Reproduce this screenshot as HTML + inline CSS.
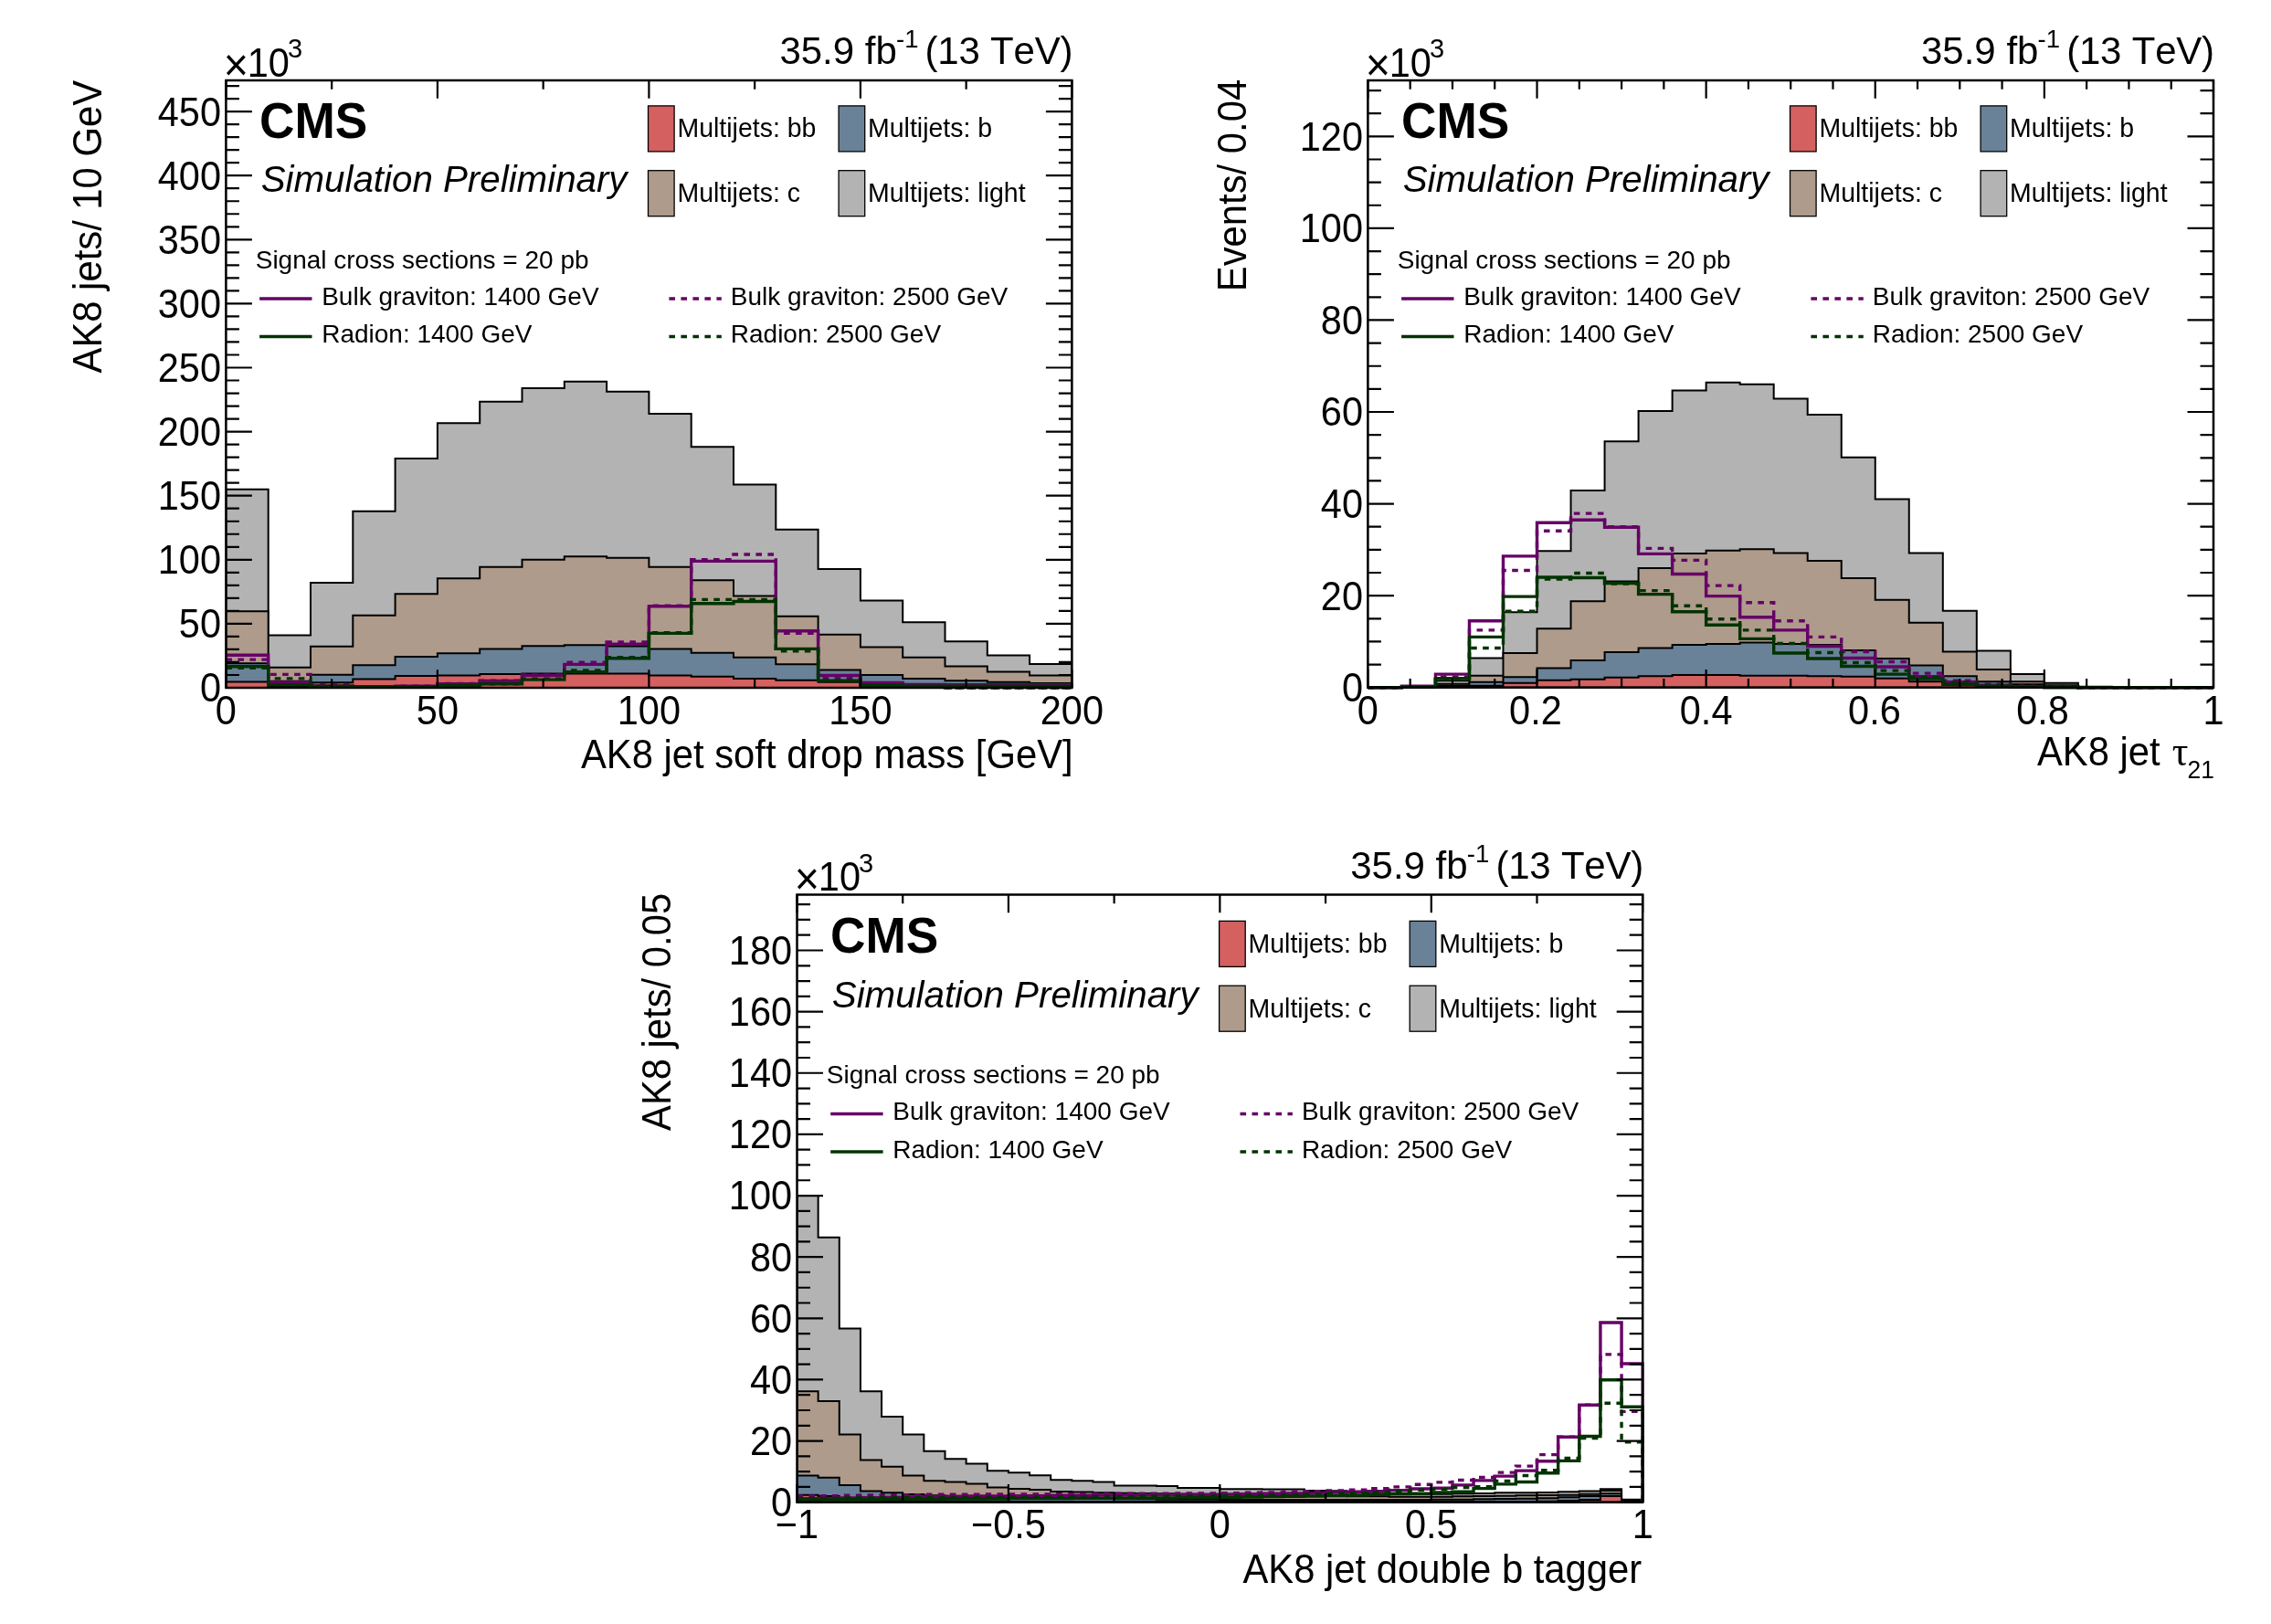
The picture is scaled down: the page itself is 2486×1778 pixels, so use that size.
<!DOCTYPE html>
<html><head><meta charset="utf-8"><title>CMS Simulation Preliminary - AK8 jet distributions</title>
<style>
html,body{margin:0;padding:0;background:#fff;width:2486px;height:1778px;overflow:hidden;}
svg{display:block;will-change:transform;}
text{font-family:"Liberation Sans",Arial,Helvetica,sans-serif;font-kerning:none;fill:#000;}
text.b{font-weight:bold;}
text.i{font-style:italic;}
text.sr{font-family:"Liberation Serif","Times New Roman",serif;}
</style></head><body>
<svg width="2486" height="1778" viewBox="0 0 2486 1778">
<rect width="2486" height="1778" fill="#fff"/>
<clipPath id="c1"><rect x="247.4" y="88" width="926" height="665"/></clipPath>
<clipPath id="s1"><rect x="247.4" y="88" width="927.5" height="667.2"/></clipPath>
<g clip-path="url(#c1)">
<path d="M247.4,753 L247.4,535.83 L293.7,535.83 L293.7,695.38 L340,695.38 L340,637.9 L386.3,637.9 L386.3,559.8 L432.6,559.8 L432.6,502.04 L478.9,502.04 L478.9,463.21 L525.2,463.21 L525.2,439.79 L571.5,439.79 L571.5,424.93 L617.8,424.93 L617.8,417.64 L664.1,417.64 L664.1,428.72 L710.4,428.72 L710.4,453.11 L756.7,453.11 L756.7,489.28 L803,489.28 L803,530.5 L849.3,530.5 L849.3,579.71 L895.6,579.71 L895.6,623.03 L941.9,623.03 L941.9,657.52 L988.2,657.52 L988.2,681.36 L1034.5,681.36 L1034.5,702.25 L1080.8,702.25 L1080.8,717.39 L1127.1,717.39 L1127.1,726.92 L1173.4,726.92 L1173.4,753 Z" fill="#b3b3b3" stroke="#000" stroke-width="2" stroke-linejoin="miter"/>
<path d="M247.4,753 L247.4,669.16 L293.7,669.16 L293.7,730.71 L340,730.71 L340,707.72 L386.3,707.72 L386.3,673.65 L432.6,673.65 L432.6,650.37 L478.9,650.37 L478.9,633.27 L525.2,633.27 L525.2,620.79 L571.5,620.79 L571.5,612.66 L617.8,612.66 L617.8,609.3 L664.1,609.3 L664.1,610.84 L710.4,610.84 L710.4,620.79 L756.7,620.79 L756.7,635.23 L803,635.23 L803,652.62 L849.3,652.62 L849.3,674.77 L895.6,674.77 L895.6,694.68 L941.9,694.68 L941.9,708.56 L988.2,708.56 L988.2,719.63 L1034.5,719.63 L1034.5,729.59 L1080.8,729.59 L1080.8,735.62 L1127.1,735.62 L1127.1,739.54 L1173.4,739.54 L1173.4,753 Z" fill="#ae9b8b" stroke="#000" stroke-width="2" stroke-linejoin="miter"/>
<path d="M247.4,753 L247.4,726.22 L293.7,726.22 L293.7,745.85 L340,745.85 L340,738.7 L386.3,738.7 L386.3,728.32 L432.6,728.32 L432.6,719.07 L478.9,719.07 L478.9,715.15 L525.2,715.15 L525.2,710.52 L571.5,710.52 L571.5,707.29 L617.8,707.29 L617.8,706.31 L664.1,706.31 L664.1,707.43 L710.4,707.43 L710.4,710.38 L756.7,710.38 L756.7,714.73 L803,714.73 L803,719.63 L849.3,719.63 L849.3,727.34 L895.6,727.34 L895.6,733.51 L941.9,733.51 L941.9,738.98 L988.2,738.98 L988.2,742.91 L1034.5,742.91 L1034.5,745.15 L1080.8,745.15 L1080.8,746.69 L1127.1,746.69 L1127.1,747.95 L1173.4,747.95 L1173.4,753 Z" fill="#6a8298" stroke="#000" stroke-width="2" stroke-linejoin="miter"/>
<path d="M247.4,753 L247.4,746.41 L293.7,746.41 L293.7,750.9 L340,750.9 L340,747.25 L386.3,747.25 L386.3,743.47 L432.6,743.47 L432.6,740.1 L478.9,740.1 L478.9,739.4 L525.2,739.4 L525.2,738 L571.5,738 L571.5,737.44 L617.8,737.44 L617.8,737.44 L664.1,737.44 L664.1,737.44 L710.4,737.44 L710.4,739.54 L756.7,739.54 L756.7,740.66 L803,740.66 L803,742.91 L849.3,742.91 L849.3,744.73 L895.6,744.73 L895.6,746.69 L941.9,746.69 L941.9,749.64 L988.2,749.64 L988.2,750.9 L1034.5,750.9 L1034.5,751.32 L1080.8,751.32 L1080.8,751.6 L1127.1,751.6 L1127.1,751.88 L1173.4,751.88 L1173.4,753 Z" fill="#d46060" stroke="#000" stroke-width="2" stroke-linejoin="miter"/>
</g><g clip-path="url(#s1)">
<path d="M247.4,717.25 L293.7,717.25 L293.7,746.83 L340,746.83 L340,751.18 L386.3,751.18 L386.3,751.6 L432.6,751.6 L432.6,751.18 L478.9,751.18 L478.9,748.79 L525.2,748.79 L525.2,745.57 L571.5,745.57 L571.5,739.54 L617.8,739.54 L617.8,727.34 L664.1,727.34 L664.1,705.19 L710.4,705.19 L710.4,663.69 L756.7,663.69 L756.7,614.34 L803,614.34 L803,614.34 L849.3,614.34 L849.3,690.75 L895.6,690.75 L895.6,739.54 L941.9,739.54 L941.9,747.39 L988.2,747.39 L988.2,749.35 L1034.5,749.35 L1034.5,749.64 L1080.8,749.64 L1080.8,749.64 L1127.1,749.64 L1127.1,749.64 L1173.4,749.64 L1173.4,753" fill="none" stroke="#660066" stroke-width="3.4"/>
<path d="M247.4,722.16 L293.7,722.16 L293.7,738.42 L340,738.42 L340,749.5 L386.3,749.5 L386.3,751.6 L432.6,751.6 L432.6,751.18 L478.9,751.18 L478.9,748.37 L525.2,748.37 L525.2,745.29 L571.5,745.29 L571.5,738.98 L617.8,738.98 L617.8,725.1 L664.1,725.1 L664.1,702.95 L710.4,702.95 L710.4,663.27 L756.7,663.27 L756.7,612.66 L803,612.66 L803,607.05 L849.3,607.05 L849.3,693.41 L895.6,693.41 L895.6,741.78 L941.9,741.78 L941.9,748.79 L988.2,748.79 L988.2,752.3 L1034.5,752.3 L1034.5,753 L1080.8,753 L1080.8,753 L1127.1,753 L1127.1,753 L1173.4,753 L1173.4,753" fill="none" stroke="#660066" stroke-width="3.4" stroke-dasharray="6.6 6.4"/>
<path d="M247.4,729.73 L293.7,729.73 L293.7,749.78 L340,749.78 L340,751.46 L386.3,751.46 L386.3,751.88 L432.6,751.88 L432.6,751.6 L478.9,751.6 L478.9,750.48 L525.2,750.48 L525.2,748.79 L571.5,748.79 L571.5,744.17 L617.8,744.17 L617.8,735.62 L664.1,735.62 L664.1,720.75 L710.4,720.75 L710.4,693.41 L756.7,693.41 L756.7,660.75 L803,660.75 L803,658.51 L849.3,658.51 L849.3,710.38 L895.6,710.38 L895.6,745.15 L941.9,745.15 L941.9,750.34 L988.2,750.34 L988.2,751.18 L1034.5,751.18 L1034.5,751.32 L1080.8,751.32 L1080.8,751.32 L1127.1,751.32 L1127.1,751.32 L1173.4,751.32 L1173.4,753" fill="none" stroke="#003300" stroke-width="3.4"/>
<path d="M247.4,731.27 L293.7,731.27 L293.7,742.91 L340,742.91 L340,751.32 L386.3,751.32 L386.3,751.88 L432.6,751.88 L432.6,751.6 L478.9,751.6 L478.9,750.48 L525.2,750.48 L525.2,748.79 L571.5,748.79 L571.5,743.19 L617.8,743.19 L617.8,734.07 L664.1,734.07 L664.1,719.63 L710.4,719.63 L710.4,692.71 L756.7,692.71 L756.7,656.4 L803,656.4 L803,656.4 L849.3,656.4 L849.3,712.9 L895.6,712.9 L895.6,744.87 L941.9,744.87 L941.9,750.2 L988.2,750.2 L988.2,752.3 L1034.5,752.3 L1034.5,753 L1080.8,753 L1080.8,753 L1127.1,753 L1127.1,753 L1173.4,753 L1173.4,753" fill="none" stroke="#003300" stroke-width="3.4" stroke-dasharray="6.6 6.4"/>
</g>
<rect x="247.4" y="88" width="926" height="665" fill="none" stroke="#000" stroke-width="2.5"/>
<path d="M247.4,753 v-19.8 M247.4,88 v19.8 M363.15,753 v-9.8 M363.15,88 v9.8 M478.9,753 v-19.8 M478.9,88 v19.8 M594.65,753 v-9.8 M594.65,88 v9.8 M710.4,753 v-19.8 M710.4,88 v19.8 M826.15,753 v-9.8 M826.15,88 v9.8 M941.9,753 v-19.8 M941.9,88 v19.8 M1057.65,753 v-9.8 M1057.65,88 v9.8 M1173.4,753 v-19.8 M1173.4,88 v19.8 M247.4,753 h28.5 M1173.4,753 h-28.5 M247.4,738.98 h14.5 M1173.4,738.98 h-14.5 M247.4,724.96 h14.5 M1173.4,724.96 h-14.5 M247.4,710.94 h14.5 M1173.4,710.94 h-14.5 M247.4,696.92 h14.5 M1173.4,696.92 h-14.5 M247.4,682.9 h28.5 M1173.4,682.9 h-28.5 M247.4,668.88 h14.5 M1173.4,668.88 h-14.5 M247.4,654.86 h14.5 M1173.4,654.86 h-14.5 M247.4,640.84 h14.5 M1173.4,640.84 h-14.5 M247.4,626.82 h14.5 M1173.4,626.82 h-14.5 M247.4,612.8 h28.5 M1173.4,612.8 h-28.5 M247.4,598.78 h14.5 M1173.4,598.78 h-14.5 M247.4,584.76 h14.5 M1173.4,584.76 h-14.5 M247.4,570.74 h14.5 M1173.4,570.74 h-14.5 M247.4,556.72 h14.5 M1173.4,556.72 h-14.5 M247.4,542.7 h28.5 M1173.4,542.7 h-28.5 M247.4,528.68 h14.5 M1173.4,528.68 h-14.5 M247.4,514.66 h14.5 M1173.4,514.66 h-14.5 M247.4,500.64 h14.5 M1173.4,500.64 h-14.5 M247.4,486.62 h14.5 M1173.4,486.62 h-14.5 M247.4,472.6 h28.5 M1173.4,472.6 h-28.5 M247.4,458.58 h14.5 M1173.4,458.58 h-14.5 M247.4,444.56 h14.5 M1173.4,444.56 h-14.5 M247.4,430.54 h14.5 M1173.4,430.54 h-14.5 M247.4,416.52 h14.5 M1173.4,416.52 h-14.5 M247.4,402.5 h28.5 M1173.4,402.5 h-28.5 M247.4,388.48 h14.5 M1173.4,388.48 h-14.5 M247.4,374.46 h14.5 M1173.4,374.46 h-14.5 M247.4,360.44 h14.5 M1173.4,360.44 h-14.5 M247.4,346.42 h14.5 M1173.4,346.42 h-14.5 M247.4,332.4 h28.5 M1173.4,332.4 h-28.5 M247.4,318.38 h14.5 M1173.4,318.38 h-14.5 M247.4,304.36 h14.5 M1173.4,304.36 h-14.5 M247.4,290.34 h14.5 M1173.4,290.34 h-14.5 M247.4,276.32 h14.5 M1173.4,276.32 h-14.5 M247.4,262.3 h28.5 M1173.4,262.3 h-28.5 M247.4,248.28 h14.5 M1173.4,248.28 h-14.5 M247.4,234.26 h14.5 M1173.4,234.26 h-14.5 M247.4,220.24 h14.5 M1173.4,220.24 h-14.5 M247.4,206.22 h14.5 M1173.4,206.22 h-14.5 M247.4,192.2 h28.5 M1173.4,192.2 h-28.5 M247.4,178.18 h14.5 M1173.4,178.18 h-14.5 M247.4,164.16 h14.5 M1173.4,164.16 h-14.5 M247.4,150.14 h14.5 M1173.4,150.14 h-14.5 M247.4,136.12 h14.5 M1173.4,136.12 h-14.5 M247.4,122.1 h28.5 M1173.4,122.1 h-28.5 M247.4,108.08 h14.5 M1173.4,108.08 h-14.5 M247.4,94.06 h14.5 M1173.4,94.06 h-14.5" stroke="#000" stroke-width="2.2" fill="none"/>
<text class="r" transform="translate(247.4,792.8) scale(1,1.05)" font-size="41.5" text-anchor="middle">0</text>
<text class="r" transform="translate(478.9,792.8) scale(1,1.05)" font-size="41.5" text-anchor="middle">50</text>
<text class="r" transform="translate(710.4,792.8) scale(1,1.05)" font-size="41.5" text-anchor="middle">100</text>
<text class="r" transform="translate(941.9,792.8) scale(1,1.05)" font-size="41.5" text-anchor="middle">150</text>
<text class="r" transform="translate(1173.4,792.8) scale(1,1.05)" font-size="41.5" text-anchor="middle">200</text>
<text class="r" transform="translate(242,768.4) scale(1,1.05)" font-size="41.5" text-anchor="end">0</text>
<text class="r" transform="translate(242,698.3) scale(1,1.05)" font-size="41.5" text-anchor="end">50</text>
<text class="r" transform="translate(242,628.2) scale(1,1.05)" font-size="41.5" text-anchor="end">100</text>
<text class="r" transform="translate(242,558.1) scale(1,1.05)" font-size="41.5" text-anchor="end">150</text>
<text class="r" transform="translate(242,488) scale(1,1.05)" font-size="41.5" text-anchor="end">200</text>
<text class="r" transform="translate(242,417.9) scale(1,1.05)" font-size="41.5" text-anchor="end">250</text>
<text class="r" transform="translate(242,347.8) scale(1,1.05)" font-size="41.5" text-anchor="end">300</text>
<text class="r" transform="translate(242,277.7) scale(1,1.05)" font-size="41.5" text-anchor="end">350</text>
<text class="r" transform="translate(242,207.6) scale(1,1.05)" font-size="41.5" text-anchor="end">400</text>
<text class="r" transform="translate(242,137.5) scale(1,1.05)" font-size="41.5" text-anchor="end">450</text>
<text class="r" transform="translate(635.89,840.7) scale(1,1.04)" font-size="41.8">AK8 jet soft drop mass [GeV]</text>
<text class="r" font-size="41.8" transform="translate(111.1,408.46) rotate(-90) scale(1,1.04)" x="0" y="0">AK8 jets/ 10 GeV</text>
<text class="r" transform="translate(244.76,87.5) scale(1,1.05)" font-size="46.7">×</text>
<text class="r" transform="translate(270.76,83.6) scale(1,1.05)" font-size="41.5">10</text>
<text class="r" transform="translate(315,63) scale(1,1.03)" font-size="29">3</text>
<text class="r" transform="translate(1012.6,70.2) scale(1,1.03)" font-size="42" textLength="161.91" lengthAdjust="spacing">(13 TeV)</text>
<text class="r" transform="translate(980.98,52.2) scale(1,1.03)" font-size="27.5">-1</text>
<text class="r" transform="translate(853.4,70.2) scale(1,1.03)" font-size="42">35.9 fb</text>
<text class="b" transform="translate(284.02,151.3) scale(1,1.03)" font-size="53.2">CMS</text>
<text class="i" x="285.66" y="210" font-size="40.3">Simulation Preliminary</text>
<rect x="709.5" y="115.9" width="28.6" height="50" fill="#d46060" stroke="#000" stroke-width="1.3"/>
<text class="r" transform="translate(741.46,150.3) scale(1,1.02)" font-size="28.5">Multijets: bb</text>
<rect x="918.1" y="115.9" width="28.6" height="50" fill="#6a8298" stroke="#000" stroke-width="1.3"/>
<text class="r" transform="translate(950.06,150.3) scale(1,1.02)" font-size="28.5">Multijets: b</text>
<rect x="709.5" y="186.7" width="28.6" height="50" fill="#ae9b8b" stroke="#000" stroke-width="1.3"/>
<text class="r" transform="translate(741.46,221.1) scale(1,1.02)" font-size="28.5">Multijets: c</text>
<rect x="918.1" y="186.7" width="28.6" height="50" fill="#b3b3b3" stroke="#000" stroke-width="1.3"/>
<text class="r" transform="translate(950.06,221.1) scale(1,1.02)" font-size="28.5">Multijets: light</text>
<text class="r" transform="translate(279.73,293.9) scale(1,1.02)" font-size="28">Signal cross sections = 20 pb</text>
<path d="M284.1,327 h57.4" stroke="#660066" stroke-width="3.4"/>
<text class="r" transform="translate(352.2,333.9) scale(1,1.02)" font-size="28">Bulk graviton: 1400 GeV</text>
<path d="M284.1,368.5 h57.4" stroke="#003300" stroke-width="3.4"/>
<text class="r" transform="translate(352.2,375.4) scale(1,1.02)" font-size="28">Radion: 1400 GeV</text>
<path d="M732.4,327 h57.4" stroke="#660066" stroke-width="3.4" stroke-dasharray="6.6 6.4"/>
<text class="r" transform="translate(799.8,333.9) scale(1,1.02)" font-size="28">Bulk graviton: 2500 GeV</text>
<path d="M732.4,368.5 h57.4" stroke="#003300" stroke-width="3.4" stroke-dasharray="6.6 6.4"/>
<text class="r" transform="translate(799.8,375.4) scale(1,1.02)" font-size="28">Radion: 2500 GeV</text>
<clipPath id="c2"><rect x="1497.4" y="88" width="925.6" height="664.7"/></clipPath>
<clipPath id="s2"><rect x="1497.4" y="88" width="927.1" height="666.9"/></clipPath>
<g clip-path="url(#c2)">
<path d="M1497.4,752.7 L1497.4,752.45 L1534.42,752.45 L1534.42,751.19 L1571.45,751.19 L1571.45,745.16 L1608.47,745.16 L1608.47,720.52 L1645.5,720.52 L1645.5,670.24 L1682.52,670.24 L1682.52,603.37 L1719.54,603.37 L1719.54,537 L1756.57,537 L1756.57,483.2 L1793.59,483.2 L1793.59,450.01 L1830.62,450.01 L1830.62,427.39 L1867.64,427.39 L1867.64,418.84 L1904.66,418.84 L1904.66,420.85 L1941.69,420.85 L1941.69,436.44 L1978.71,436.44 L1978.71,454.04 L2015.74,454.04 L2015.74,500.8 L2052.76,500.8 L2052.76,546.55 L2089.78,546.55 L2089.78,605.38 L2126.81,605.38 L2126.81,668.73 L2163.83,668.73 L2163.83,712.48 L2200.86,712.48 L2200.86,738.12 L2237.88,738.12 L2237.88,747.67 L2274.9,747.67 L2274.9,751.69 L2311.93,751.69 L2311.93,752.45 L2348.95,752.45 L2348.95,752.6 L2385.98,752.6 L2385.98,752.65 L2423,752.65 L2423,752.7 Z" fill="#b3b3b3" stroke="#000" stroke-width="2" stroke-linejoin="miter"/>
<path d="M1497.4,752.7 L1497.4,752.55 L1534.42,752.55 L1534.42,751.69 L1571.45,751.69 L1571.45,748.68 L1608.47,748.68 L1608.47,739.63 L1645.5,739.63 L1645.5,714.99 L1682.52,714.99 L1682.52,688.34 L1719.54,688.34 L1719.54,658.17 L1756.57,658.17 L1756.57,636.55 L1793.59,636.55 L1793.59,621.97 L1830.62,621.97 L1830.62,605.88 L1867.64,605.88 L1867.64,602.87 L1904.66,602.87 L1904.66,601.36 L1941.69,601.36 L1941.69,605.38 L1978.71,605.38 L1978.71,613.93 L2015.74,613.93 L2015.74,633.03 L2052.76,633.03 L2052.76,656.67 L2089.78,656.67 L2089.78,681.81 L2126.81,681.81 L2126.81,713.48 L2163.83,713.48 L2163.83,733.09 L2200.86,733.09 L2200.86,746.16 L2237.88,746.16 L2237.88,750.19 L2274.9,750.19 L2274.9,752.2 L2311.93,752.2 L2311.93,752.55 L2348.95,752.55 L2348.95,752.65 L2385.98,752.65 L2385.98,752.65 L2423,752.65 L2423,752.7 Z" fill="#ae9b8b" stroke="#000" stroke-width="2" stroke-linejoin="miter"/>
<path d="M1497.4,752.7 L1497.4,752.6 L1534.42,752.6 L1534.42,752.2 L1571.45,752.2 L1571.45,750.69 L1608.47,750.69 L1608.47,746.67 L1645.5,746.67 L1645.5,741.14 L1682.52,741.14 L1682.52,731.58 L1719.54,731.58 L1719.54,723.03 L1756.57,723.03 L1756.57,713.98 L1793.59,713.98 L1793.59,709.46 L1830.62,709.46 L1830.62,705.94 L1867.64,705.94 L1867.64,704.93 L1904.66,704.93 L1904.66,703.43 L1941.69,703.43 L1941.69,704.93 L1978.71,704.93 L1978.71,705.94 L2015.74,705.94 L2015.74,711.97 L2052.76,711.97 L2052.76,721.02 L2089.78,721.02 L2089.78,728.57 L2126.81,728.57 L2126.81,740.13 L2163.83,740.13 L2163.83,746.16 L2200.86,746.16 L2200.86,749.18 L2237.88,749.18 L2237.88,751.69 L2274.9,751.69 L2274.9,752.45 L2311.93,752.45 L2311.93,752.6 L2348.95,752.6 L2348.95,752.65 L2385.98,752.65 L2385.98,752.65 L2423,752.65 L2423,752.7 Z" fill="#6a8298" stroke="#000" stroke-width="2" stroke-linejoin="miter"/>
<path d="M1497.4,752.7 L1497.4,752.65 L1534.42,752.65 L1534.42,752.45 L1571.45,752.45 L1571.45,751.69 L1608.47,751.69 L1608.47,750.69 L1645.5,750.69 L1645.5,747.67 L1682.52,747.67 L1682.52,744.66 L1719.54,744.66 L1719.54,743.65 L1756.57,743.65 L1756.57,741.64 L1793.59,741.64 L1793.59,740.13 L1830.62,740.13 L1830.62,739.12 L1867.64,739.12 L1867.64,739.12 L1904.66,739.12 L1904.66,739.63 L1941.69,739.63 L1941.69,739.63 L1978.71,739.63 L1978.71,740.13 L2015.74,740.13 L2015.74,740.63 L2052.76,740.63 L2052.76,742.64 L2089.78,742.64 L2089.78,746.16 L2126.81,746.16 L2126.81,749.43 L2163.83,749.43 L2163.83,751.19 L2200.86,751.19 L2200.86,751.95 L2237.88,751.95 L2237.88,752.45 L2274.9,752.45 L2274.9,752.6 L2311.93,752.6 L2311.93,752.65 L2348.95,752.65 L2348.95,752.65 L2385.98,752.65 L2385.98,752.65 L2423,752.65 L2423,752.7 Z" fill="#d46060" stroke="#000" stroke-width="2" stroke-linejoin="miter"/>
</g><g clip-path="url(#s2)">
<path d="M1497.4,752.7 L1534.42,752.7 L1534.42,751.19 L1571.45,751.19 L1571.45,738.12 L1608.47,738.12 L1608.47,679.79 L1645.5,679.79 L1645.5,608.9 L1682.52,608.9 L1682.52,572.19 L1719.54,572.19 L1719.54,569.18 L1756.57,569.18 L1756.57,577.22 L1793.59,577.22 L1793.59,606.39 L1830.62,606.39 L1830.62,628.51 L1867.64,628.51 L1867.64,652.64 L1904.66,652.64 L1904.66,675.77 L1941.69,675.77 L1941.69,689.85 L1978.71,689.85 L1978.71,707.45 L2015.74,707.45 L2015.74,720.52 L2052.76,720.52 L2052.76,730.07 L2089.78,730.07 L2089.78,740.63 L2126.81,740.63 L2126.81,746.67 L2163.83,746.67 L2163.83,750.19 L2200.86,750.19 L2200.86,751.69 L2237.88,751.69 L2237.88,752.2 L2274.9,752.2 L2274.9,752.7 L2311.93,752.7 L2311.93,752.7 L2348.95,752.7 L2348.95,752.7 L2385.98,752.7 L2385.98,752.7 L2423,752.7 L2423,752.7" fill="none" stroke="#660066" stroke-width="3.4"/>
<path d="M1497.4,752.7 L1534.42,752.7 L1534.42,751.69 L1571.45,751.69 L1571.45,741.14 L1608.47,741.14 L1608.47,689.85 L1645.5,689.85 L1645.5,624.49 L1682.52,624.49 L1682.52,581.25 L1719.54,581.25 L1719.54,562.14 L1756.57,562.14 L1756.57,576.72 L1793.59,576.72 L1793.59,600.35 L1830.62,600.35 L1830.62,613.42 L1867.64,613.42 L1867.64,641.08 L1904.66,641.08 L1904.66,659.68 L1941.69,659.68 L1941.69,679.79 L1978.71,679.79 L1978.71,697.39 L2015.74,697.39 L2015.74,713.48 L2052.76,713.48 L2052.76,724.54 L2089.78,724.54 L2089.78,737.11 L2126.81,737.11 L2126.81,745.16 L2163.83,745.16 L2163.83,749.18 L2200.86,749.18 L2200.86,751.19 L2237.88,751.19 L2237.88,752.2 L2274.9,752.2 L2274.9,752.7 L2311.93,752.7 L2311.93,752.7 L2348.95,752.7 L2348.95,752.7 L2385.98,752.7 L2385.98,752.7 L2423,752.7 L2423,752.7" fill="none" stroke="#660066" stroke-width="3.4" stroke-dasharray="6.6 6.4"/>
<path d="M1497.4,752.7 L1534.42,752.7 L1534.42,752.2 L1571.45,752.2 L1571.45,742.64 L1608.47,742.64 L1608.47,697.39 L1645.5,697.39 L1645.5,653.15 L1682.52,653.15 L1682.52,632.03 L1719.54,632.03 L1719.54,632.53 L1756.57,632.53 L1756.57,638.56 L1793.59,638.56 L1793.59,650.63 L1830.62,650.63 L1830.62,669.74 L1867.64,669.74 L1867.64,684.32 L1904.66,684.32 L1904.66,699.4 L1941.69,699.4 L1941.69,714.99 L1978.71,714.99 L1978.71,721.02 L2015.74,721.02 L2015.74,729.57 L2052.76,729.57 L2052.76,738.12 L2089.78,738.12 L2089.78,743.15 L2126.81,743.15 L2126.81,749.18 L2163.83,749.18 L2163.83,751.19 L2200.86,751.19 L2200.86,752.2 L2237.88,752.2 L2237.88,752.7 L2274.9,752.7 L2274.9,752.7 L2311.93,752.7 L2311.93,752.7 L2348.95,752.7 L2348.95,752.7 L2385.98,752.7 L2385.98,752.7 L2423,752.7 L2423,752.7" fill="none" stroke="#003300" stroke-width="3.4"/>
<path d="M1497.4,752.7 L1534.42,752.7 L1534.42,752.2 L1571.45,752.2 L1571.45,743.65 L1608.47,743.65 L1608.47,709.46 L1645.5,709.46 L1645.5,669.24 L1682.52,669.24 L1682.52,634.04 L1719.54,634.04 L1719.54,627.5 L1756.57,627.5 L1756.57,639.07 L1793.59,639.07 L1793.59,646.61 L1830.62,646.61 L1830.62,663.2 L1867.64,663.2 L1867.64,677.78 L1904.66,677.78 L1904.66,689.85 L1941.69,689.85 L1941.69,704.43 L1978.71,704.43 L1978.71,714.49 L2015.74,714.49 L2015.74,725.55 L2052.76,725.55 L2052.76,734.1 L2089.78,734.1 L2089.78,741.64 L2126.81,741.64 L2126.81,747.17 L2163.83,747.17 L2163.83,750.19 L2200.86,750.19 L2200.86,751.69 L2237.88,751.69 L2237.88,752.2 L2274.9,752.2 L2274.9,752.7 L2311.93,752.7 L2311.93,752.7 L2348.95,752.7 L2348.95,752.7 L2385.98,752.7 L2385.98,752.7 L2423,752.7 L2423,752.7" fill="none" stroke="#003300" stroke-width="3.4" stroke-dasharray="6.6 6.4"/>
</g>
<rect x="1497.4" y="88" width="925.6" height="664.7" fill="none" stroke="#000" stroke-width="2.5"/>
<path d="M1497.4,752.7 v-19.8 M1497.4,88 v19.8 M1543.68,752.7 v-9.8 M1543.68,88 v9.8 M1589.96,752.7 v-9.8 M1589.96,88 v9.8 M1636.24,752.7 v-9.8 M1636.24,88 v9.8 M1682.52,752.7 v-19.8 M1682.52,88 v19.8 M1728.8,752.7 v-9.8 M1728.8,88 v9.8 M1775.08,752.7 v-9.8 M1775.08,88 v9.8 M1821.36,752.7 v-9.8 M1821.36,88 v9.8 M1867.64,752.7 v-19.8 M1867.64,88 v19.8 M1913.92,752.7 v-9.8 M1913.92,88 v9.8 M1960.2,752.7 v-9.8 M1960.2,88 v9.8 M2006.48,752.7 v-9.8 M2006.48,88 v9.8 M2052.76,752.7 v-19.8 M2052.76,88 v19.8 M2099.04,752.7 v-9.8 M2099.04,88 v9.8 M2145.32,752.7 v-9.8 M2145.32,88 v9.8 M2191.6,752.7 v-9.8 M2191.6,88 v9.8 M2237.88,752.7 v-19.8 M2237.88,88 v19.8 M2284.16,752.7 v-9.8 M2284.16,88 v9.8 M2330.44,752.7 v-9.8 M2330.44,88 v9.8 M2376.72,752.7 v-9.8 M2376.72,88 v9.8 M2423,752.7 v-19.8 M2423,88 v19.8 M1497.4,752.7 h28.5 M2423,752.7 h-28.5 M1497.4,727.56 h14.5 M2423,727.56 h-14.5 M1497.4,702.42 h14.5 M2423,702.42 h-14.5 M1497.4,677.28 h14.5 M2423,677.28 h-14.5 M1497.4,652.14 h28.5 M2423,652.14 h-28.5 M1497.4,627 h14.5 M2423,627 h-14.5 M1497.4,601.86 h14.5 M2423,601.86 h-14.5 M1497.4,576.72 h14.5 M2423,576.72 h-14.5 M1497.4,551.58 h28.5 M2423,551.58 h-28.5 M1497.4,526.44 h14.5 M2423,526.44 h-14.5 M1497.4,501.3 h14.5 M2423,501.3 h-14.5 M1497.4,476.16 h14.5 M2423,476.16 h-14.5 M1497.4,451.02 h28.5 M2423,451.02 h-28.5 M1497.4,425.88 h14.5 M2423,425.88 h-14.5 M1497.4,400.74 h14.5 M2423,400.74 h-14.5 M1497.4,375.6 h14.5 M2423,375.6 h-14.5 M1497.4,350.46 h28.5 M2423,350.46 h-28.5 M1497.4,325.32 h14.5 M2423,325.32 h-14.5 M1497.4,300.18 h14.5 M2423,300.18 h-14.5 M1497.4,275.04 h14.5 M2423,275.04 h-14.5 M1497.4,249.9 h28.5 M2423,249.9 h-28.5 M1497.4,224.76 h14.5 M2423,224.76 h-14.5 M1497.4,199.62 h14.5 M2423,199.62 h-14.5 M1497.4,174.48 h14.5 M2423,174.48 h-14.5 M1497.4,149.34 h28.5 M2423,149.34 h-28.5 M1497.4,124.2 h14.5 M2423,124.2 h-14.5 M1497.4,99.06 h14.5 M2423,99.06 h-14.5" stroke="#000" stroke-width="2.2" fill="none"/>
<text class="r" transform="translate(1497.4,792.7) scale(1,1.05)" font-size="41.5" text-anchor="middle">0</text>
<text class="r" transform="translate(1680.92,792.7) scale(1,1.05)" font-size="41.5" text-anchor="middle">0.2</text>
<text class="r" transform="translate(1867.64,792.7) scale(1,1.05)" font-size="41.5" text-anchor="middle">0.4</text>
<text class="r" transform="translate(2051.96,792.7) scale(1,1.05)" font-size="41.5" text-anchor="middle">0.6</text>
<text class="r" transform="translate(2236.03,792.7) scale(1,1.05)" font-size="41.5" text-anchor="middle">0.8</text>
<text class="r" transform="translate(2423,792.7) scale(1,1.05)" font-size="41.5" text-anchor="middle">1</text>
<text class="r" transform="translate(1492,768.1) scale(1,1.05)" font-size="41.5" text-anchor="end">0</text>
<text class="r" transform="translate(1492,667.54) scale(1,1.05)" font-size="41.5" text-anchor="end">20</text>
<text class="r" transform="translate(1492,566.98) scale(1,1.05)" font-size="41.5" text-anchor="end">40</text>
<text class="r" transform="translate(1492,466.42) scale(1,1.05)" font-size="41.5" text-anchor="end">60</text>
<text class="r" transform="translate(1492,365.86) scale(1,1.05)" font-size="41.5" text-anchor="end">80</text>
<text class="r" transform="translate(1492,265.3) scale(1,1.05)" font-size="41.5" text-anchor="end">100</text>
<text class="r" transform="translate(1492,164.74) scale(1,1.05)" font-size="41.5" text-anchor="end">120</text>
<text class="r" transform="translate(2394.62,851.6) scale(1,1.04)" font-size="26.4">21</text><text class="sr" transform="translate(2377.63,837.9) scale(1,1.04)" font-size="44">τ</text><text class="r" transform="translate(2229.92,837.9) scale(1,1.04)" font-size="41.8">AK8 jet</text>
<text class="r" font-size="41.8" transform="translate(1363.9,319.15) rotate(-90) scale(1,1.04)" x="0" y="0">Events/ 0.04</text>
<text class="r" transform="translate(1494.76,87.5) scale(1,1.05)" font-size="46.7">×</text>
<text class="r" transform="translate(1520.76,83.6) scale(1,1.05)" font-size="41.5">10</text>
<text class="r" transform="translate(1565,63) scale(1,1.03)" font-size="29">3</text>
<text class="r" transform="translate(2262.2,70.2) scale(1,1.03)" font-size="42" textLength="161.91" lengthAdjust="spacing">(13 TeV)</text>
<text class="r" transform="translate(2230.58,52.2) scale(1,1.03)" font-size="27.5">-1</text>
<text class="r" transform="translate(2103,70.2) scale(1,1.03)" font-size="42">35.9 fb</text>
<text class="b" transform="translate(1534.02,151.3) scale(1,1.03)" font-size="53.2">CMS</text>
<text class="i" x="1535.66" y="210" font-size="40.3">Simulation Preliminary</text>
<rect x="1959.5" y="115.9" width="28.6" height="50" fill="#d46060" stroke="#000" stroke-width="1.3"/>
<text class="r" transform="translate(1991.46,150.3) scale(1,1.02)" font-size="28.5">Multijets: bb</text>
<rect x="2168.1" y="115.9" width="28.6" height="50" fill="#6a8298" stroke="#000" stroke-width="1.3"/>
<text class="r" transform="translate(2200.06,150.3) scale(1,1.02)" font-size="28.5">Multijets: b</text>
<rect x="1959.5" y="186.7" width="28.6" height="50" fill="#ae9b8b" stroke="#000" stroke-width="1.3"/>
<text class="r" transform="translate(1991.46,221.1) scale(1,1.02)" font-size="28.5">Multijets: c</text>
<rect x="2168.1" y="186.7" width="28.6" height="50" fill="#b3b3b3" stroke="#000" stroke-width="1.3"/>
<text class="r" transform="translate(2200.06,221.1) scale(1,1.02)" font-size="28.5">Multijets: light</text>
<text class="r" transform="translate(1529.73,293.9) scale(1,1.02)" font-size="28">Signal cross sections = 20 pb</text>
<path d="M1534.1,327 h57.4" stroke="#660066" stroke-width="3.4"/>
<text class="r" transform="translate(1602.2,333.9) scale(1,1.02)" font-size="28">Bulk graviton: 1400 GeV</text>
<path d="M1534.1,368.5 h57.4" stroke="#003300" stroke-width="3.4"/>
<text class="r" transform="translate(1602.2,375.4) scale(1,1.02)" font-size="28">Radion: 1400 GeV</text>
<path d="M1982.4,327 h57.4" stroke="#660066" stroke-width="3.4" stroke-dasharray="6.6 6.4"/>
<text class="r" transform="translate(2049.8,333.9) scale(1,1.02)" font-size="28">Bulk graviton: 2500 GeV</text>
<path d="M1982.4,368.5 h57.4" stroke="#003300" stroke-width="3.4" stroke-dasharray="6.6 6.4"/>
<text class="r" transform="translate(2049.8,375.4) scale(1,1.02)" font-size="28">Radion: 2500 GeV</text>
<clipPath id="c3"><rect x="872.5" y="979.5" width="925.7" height="665.2"/></clipPath>
<clipPath id="s3"><rect x="872.5" y="979.5" width="927.2" height="667.4"/></clipPath>
<g clip-path="url(#c3)">
<path d="M872.5,1644.7 L872.5,1309.03 L895.64,1309.03 L895.64,1354.68 L918.78,1354.68 L918.78,1454.38 L941.93,1454.38 L941.93,1523.19 L965.07,1523.19 L965.07,1551.05 L988.21,1551.05 L988.21,1570.52 L1011.36,1570.52 L1011.36,1588.64 L1034.5,1588.64 L1034.5,1597.37 L1057.64,1597.37 L1057.64,1602.41 L1080.78,1602.41 L1080.78,1610.13 L1103.92,1610.13 L1103.92,1612.14 L1127.07,1612.14 L1127.07,1615.16 L1150.21,1615.16 L1150.21,1620.2 L1173.35,1620.2 L1173.35,1621.2 L1196.49,1621.2 L1196.49,1622.55 L1219.64,1622.55 L1219.64,1626.57 L1242.78,1626.57 L1242.78,1626.57 L1265.92,1626.57 L1265.92,1626.91 L1289.07,1626.91 L1289.07,1628.92 L1312.21,1628.92 L1312.21,1628.92 L1335.35,1628.92 L1335.35,1630.27 L1358.49,1630.27 L1358.49,1630.27 L1381.63,1630.27 L1381.63,1630.6 L1404.78,1630.6 L1404.78,1630.6 L1427.92,1630.6 L1427.92,1631.94 L1451.06,1631.94 L1451.06,1632.28 L1474.2,1632.28 L1474.2,1632.95 L1497.35,1632.95 L1497.35,1633.62 L1520.49,1633.62 L1520.49,1634.63 L1543.63,1634.63 L1543.63,1635.3 L1566.78,1635.3 L1566.78,1635.64 L1589.92,1635.64 L1589.92,1635.3 L1613.06,1635.3 L1613.06,1634.97 L1636.2,1634.97 L1636.2,1634.29 L1659.35,1634.29 L1659.35,1634.13 L1682.49,1634.13 L1682.49,1633.96 L1705.63,1633.96 L1705.63,1633.29 L1728.77,1633.29 L1728.77,1632.62 L1751.91,1632.62 L1751.91,1630.27 L1775.06,1630.27 L1775.06,1641.68 L1798.2,1641.68 L1798.2,1644.7 Z" fill="#b3b3b3" stroke="#000" stroke-width="2" stroke-linejoin="miter"/>
<path d="M872.5,1644.7 L872.5,1523.19 L895.64,1523.19 L895.64,1533.93 L918.78,1533.93 L918.78,1570.52 L941.93,1570.52 L941.93,1598.38 L965.07,1598.38 L965.07,1605.76 L988.21,1605.76 L988.21,1615.5 L1011.36,1615.5 L1011.36,1621.2 L1034.5,1621.2 L1034.5,1622.55 L1057.64,1622.55 L1057.64,1624.56 L1080.78,1624.56 L1080.78,1628.59 L1103.92,1628.59 L1103.92,1629.93 L1127.07,1629.93 L1127.07,1630.94 L1150.21,1630.94 L1150.21,1632.95 L1173.35,1632.95 L1173.35,1633.62 L1196.49,1633.62 L1196.49,1634.29 L1219.64,1634.29 L1219.64,1634.63 L1242.78,1634.63 L1242.78,1634.97 L1265.92,1634.97 L1265.92,1635.3 L1289.07,1635.3 L1289.07,1635.64 L1312.21,1635.64 L1312.21,1635.97 L1335.35,1635.97 L1335.35,1636.31 L1358.49,1636.31 L1358.49,1636.64 L1381.63,1636.64 L1381.63,1636.98 L1404.78,1636.98 L1404.78,1637.32 L1427.92,1637.32 L1427.92,1637.65 L1451.06,1637.65 L1451.06,1637.99 L1474.2,1637.99 L1474.2,1638.32 L1497.35,1638.32 L1497.35,1638.32 L1520.49,1638.32 L1520.49,1638.66 L1543.63,1638.66 L1543.63,1638.66 L1566.78,1638.66 L1566.78,1638.66 L1589.92,1638.66 L1589.92,1638.32 L1613.06,1638.32 L1613.06,1637.99 L1636.2,1637.99 L1636.2,1637.65 L1659.35,1637.65 L1659.35,1637.32 L1682.49,1637.32 L1682.49,1636.98 L1705.63,1636.98 L1705.63,1636.64 L1728.77,1636.64 L1728.77,1635.64 L1751.91,1635.64 L1751.91,1631.94 L1775.06,1631.94 L1775.06,1642.01 L1798.2,1642.01 L1798.2,1644.7 Z" fill="#ae9b8b" stroke="#000" stroke-width="2" stroke-linejoin="miter"/>
<path d="M872.5,1644.7 L872.5,1615.5 L895.64,1615.5 L895.64,1617.85 L918.78,1617.85 L918.78,1625.9 L941.93,1625.9 L941.93,1632.62 L965.07,1632.62 L965.07,1634.29 L988.21,1634.29 L988.21,1635.97 L1011.36,1635.97 L1011.36,1637.32 L1034.5,1637.32 L1034.5,1637.99 L1057.64,1637.99 L1057.64,1638.66 L1080.78,1638.66 L1080.78,1639.33 L1103.92,1639.33 L1103.92,1639.66 L1127.07,1639.66 L1127.07,1640 L1150.21,1640 L1150.21,1640.34 L1173.35,1640.34 L1173.35,1640.67 L1196.49,1640.67 L1196.49,1641.01 L1219.64,1641.01 L1219.64,1641.34 L1242.78,1641.34 L1242.78,1641.34 L1265.92,1641.34 L1265.92,1641.68 L1289.07,1641.68 L1289.07,1641.68 L1312.21,1641.68 L1312.21,1641.68 L1335.35,1641.68 L1335.35,1642.01 L1358.49,1642.01 L1358.49,1642.01 L1381.63,1642.01 L1381.63,1642.01 L1404.78,1642.01 L1404.78,1642.01 L1427.92,1642.01 L1427.92,1642.01 L1451.06,1642.01 L1451.06,1642.01 L1474.2,1642.01 L1474.2,1642.01 L1497.35,1642.01 L1497.35,1642.01 L1520.49,1642.01 L1520.49,1642.01 L1543.63,1642.01 L1543.63,1642.01 L1566.78,1642.01 L1566.78,1641.68 L1589.92,1641.68 L1589.92,1641.68 L1613.06,1641.68 L1613.06,1641.34 L1636.2,1641.34 L1636.2,1641.01 L1659.35,1641.01 L1659.35,1640.67 L1682.49,1640.67 L1682.49,1640.34 L1705.63,1640.34 L1705.63,1639.33 L1728.77,1639.33 L1728.77,1637.99 L1751.91,1637.99 L1751.91,1635.3 L1775.06,1635.3 L1775.06,1642.69 L1798.2,1642.69 L1798.2,1644.7 Z" fill="#6a8298" stroke="#000" stroke-width="2" stroke-linejoin="miter"/>
<path d="M872.5,1644.7 L872.5,1636.64 L895.64,1636.64 L895.64,1637.99 L918.78,1637.99 L918.78,1640.67 L941.93,1640.67 L941.93,1642.35 L965.07,1642.35 L965.07,1643.02 L988.21,1643.02 L988.21,1643.36 L1011.36,1643.36 L1011.36,1643.69 L1034.5,1643.69 L1034.5,1643.69 L1057.64,1643.69 L1057.64,1643.69 L1080.78,1643.69 L1080.78,1644.03 L1103.92,1644.03 L1103.92,1644.03 L1127.07,1644.03 L1127.07,1644.03 L1150.21,1644.03 L1150.21,1644.03 L1173.35,1644.03 L1173.35,1644.03 L1196.49,1644.03 L1196.49,1644.03 L1219.64,1644.03 L1219.64,1644.03 L1242.78,1644.03 L1242.78,1644.03 L1265.92,1644.03 L1265.92,1644.03 L1289.07,1644.03 L1289.07,1644.03 L1312.21,1644.03 L1312.21,1644.03 L1335.35,1644.03 L1335.35,1644.03 L1358.49,1644.03 L1358.49,1644.03 L1381.63,1644.03 L1381.63,1644.03 L1404.78,1644.03 L1404.78,1644.03 L1427.92,1644.03 L1427.92,1644.03 L1451.06,1644.03 L1451.06,1644.03 L1474.2,1644.03 L1474.2,1644.03 L1497.35,1644.03 L1497.35,1644.03 L1520.49,1644.03 L1520.49,1644.03 L1543.63,1644.03 L1543.63,1644.03 L1566.78,1644.03 L1566.78,1644.03 L1589.92,1644.03 L1589.92,1644.03 L1613.06,1644.03 L1613.06,1644.03 L1636.2,1644.03 L1636.2,1644.03 L1659.35,1644.03 L1659.35,1644.03 L1682.49,1644.03 L1682.49,1643.69 L1705.63,1643.69 L1705.63,1643.02 L1728.77,1643.02 L1728.77,1642.01 L1751.91,1642.01 L1751.91,1637.99 L1775.06,1637.99 L1775.06,1643.02 L1798.2,1643.02 L1798.2,1644.7 Z" fill="#d46060" stroke="#000" stroke-width="2" stroke-linejoin="miter"/>
</g><g clip-path="url(#s3)">
<path d="M872.5,1640.67 L895.64,1640.67 L895.64,1640.34 L918.78,1640.34 L918.78,1640 L941.93,1640 L941.93,1639.66 L965.07,1639.66 L965.07,1639.33 L988.21,1639.33 L988.21,1638.99 L1011.36,1638.99 L1011.36,1638.66 L1034.5,1638.66 L1034.5,1638.32 L1057.64,1638.32 L1057.64,1637.99 L1080.78,1637.99 L1080.78,1637.99 L1103.92,1637.99 L1103.92,1637.65 L1127.07,1637.65 L1127.07,1637.65 L1150.21,1637.65 L1150.21,1637.32 L1173.35,1637.32 L1173.35,1637.32 L1196.49,1637.32 L1196.49,1636.98 L1219.64,1636.98 L1219.64,1636.98 L1242.78,1636.98 L1242.78,1636.64 L1265.92,1636.64 L1265.92,1636.64 L1289.07,1636.64 L1289.07,1636.31 L1312.21,1636.31 L1312.21,1636.31 L1335.35,1636.31 L1335.35,1635.97 L1358.49,1635.97 L1358.49,1635.64 L1381.63,1635.64 L1381.63,1635.3 L1404.78,1635.3 L1404.78,1634.97 L1427.92,1634.97 L1427.92,1634.63 L1451.06,1634.63 L1451.06,1633.96 L1474.2,1633.96 L1474.2,1633.29 L1497.35,1633.29 L1497.35,1632.62 L1520.49,1632.62 L1520.49,1631.61 L1543.63,1631.61 L1543.63,1629.93 L1566.78,1629.93 L1566.78,1629.26 L1589.92,1629.26 L1589.92,1625.9 L1613.06,1625.9 L1613.06,1620.87 L1636.2,1620.87 L1636.2,1616.17 L1659.35,1616.17 L1659.35,1610.13 L1682.49,1610.13 L1682.49,1599.72 L1705.63,1599.72 L1705.63,1573.2 L1728.77,1573.2 L1728.77,1538.29 L1751.91,1538.29 L1751.91,1448 L1775.06,1448 L1775.06,1492.98 L1798.2,1492.98 L1798.2,1644.7" fill="none" stroke="#660066" stroke-width="3.4"/>
<path d="M872.5,1637.99 L895.64,1637.99 L895.64,1637.65 L918.78,1637.65 L918.78,1637.32 L941.93,1637.32 L941.93,1636.98 L965.07,1636.98 L965.07,1636.64 L988.21,1636.64 L988.21,1636.64 L1011.36,1636.64 L1011.36,1636.31 L1034.5,1636.31 L1034.5,1636.31 L1057.64,1636.31 L1057.64,1636.31 L1080.78,1636.31 L1080.78,1635.97 L1103.92,1635.97 L1103.92,1635.97 L1127.07,1635.97 L1127.07,1635.97 L1150.21,1635.97 L1150.21,1635.64 L1173.35,1635.64 L1173.35,1635.64 L1196.49,1635.64 L1196.49,1635.64 L1219.64,1635.64 L1219.64,1635.3 L1242.78,1635.3 L1242.78,1635.3 L1265.92,1635.3 L1265.92,1635.3 L1289.07,1635.3 L1289.07,1634.97 L1312.21,1634.97 L1312.21,1634.97 L1335.35,1634.97 L1335.35,1634.63 L1358.49,1634.63 L1358.49,1634.29 L1381.63,1634.29 L1381.63,1633.96 L1404.78,1633.96 L1404.78,1633.29 L1427.92,1633.29 L1427.92,1632.62 L1451.06,1632.62 L1451.06,1631.94 L1474.2,1631.94 L1474.2,1631.27 L1497.35,1631.27 L1497.35,1629.59 L1520.49,1629.59 L1520.49,1627.92 L1543.63,1627.92 L1543.63,1625.23 L1566.78,1625.23 L1566.78,1622.88 L1589.92,1622.88 L1589.92,1620.53 L1613.06,1620.53 L1613.06,1617.51 L1636.2,1617.51 L1636.2,1612.14 L1659.35,1612.14 L1659.35,1605.09 L1682.49,1605.09 L1682.49,1592.67 L1705.63,1592.67 L1705.63,1573.2 L1728.77,1573.2 L1728.77,1538.29 L1751.91,1538.29 L1751.91,1482.91 L1775.06,1482.91 L1775.06,1545.34 L1798.2,1545.34 L1798.2,1644.7" fill="none" stroke="#660066" stroke-width="3.4" stroke-dasharray="6.6 6.4"/>
<path d="M872.5,1642.01 L895.64,1642.01 L895.64,1642.01 L918.78,1642.01 L918.78,1641.68 L941.93,1641.68 L941.93,1641.68 L965.07,1641.68 L965.07,1641.34 L988.21,1641.34 L988.21,1641.34 L1011.36,1641.34 L1011.36,1641.34 L1034.5,1641.34 L1034.5,1641.01 L1057.64,1641.01 L1057.64,1641.01 L1080.78,1641.01 L1080.78,1641.01 L1103.92,1641.01 L1103.92,1640.67 L1127.07,1640.67 L1127.07,1640.67 L1150.21,1640.67 L1150.21,1640.67 L1173.35,1640.67 L1173.35,1640.34 L1196.49,1640.34 L1196.49,1640.34 L1219.64,1640.34 L1219.64,1640.34 L1242.78,1640.34 L1242.78,1640 L1265.92,1640 L1265.92,1640 L1289.07,1640 L1289.07,1639.66 L1312.21,1639.66 L1312.21,1639.66 L1335.35,1639.66 L1335.35,1639.33 L1358.49,1639.33 L1358.49,1638.99 L1381.63,1638.99 L1381.63,1638.66 L1404.78,1638.66 L1404.78,1638.32 L1427.92,1638.32 L1427.92,1637.99 L1451.06,1637.99 L1451.06,1637.65 L1474.2,1637.65 L1474.2,1636.98 L1497.35,1636.98 L1497.35,1636.31 L1520.49,1636.31 L1520.49,1635.64 L1543.63,1635.64 L1543.63,1635.3 L1566.78,1635.3 L1566.78,1633.96 L1589.92,1633.96 L1589.92,1633.29 L1613.06,1633.29 L1613.06,1629.59 L1636.2,1629.59 L1636.2,1624.9 L1659.35,1624.9 L1659.35,1622.55 L1682.49,1622.55 L1682.49,1612.81 L1705.63,1612.81 L1705.63,1599.38 L1728.77,1599.38 L1728.77,1572.53 L1751.91,1572.53 L1751.91,1510.77 L1775.06,1510.77 L1775.06,1540.31 L1798.2,1540.31 L1798.2,1644.7" fill="none" stroke="#003300" stroke-width="3.4"/>
<path d="M872.5,1640.34 L895.64,1640.34 L895.64,1640.34 L918.78,1640.34 L918.78,1640 L941.93,1640 L941.93,1640 L965.07,1640 L965.07,1639.66 L988.21,1639.66 L988.21,1639.66 L1011.36,1639.66 L1011.36,1639.66 L1034.5,1639.66 L1034.5,1639.33 L1057.64,1639.33 L1057.64,1639.33 L1080.78,1639.33 L1080.78,1639.33 L1103.92,1639.33 L1103.92,1638.99 L1127.07,1638.99 L1127.07,1638.99 L1150.21,1638.99 L1150.21,1638.99 L1173.35,1638.99 L1173.35,1638.66 L1196.49,1638.66 L1196.49,1638.66 L1219.64,1638.66 L1219.64,1638.66 L1242.78,1638.66 L1242.78,1638.32 L1265.92,1638.32 L1265.92,1638.32 L1289.07,1638.32 L1289.07,1637.99 L1312.21,1637.99 L1312.21,1637.99 L1335.35,1637.99 L1335.35,1637.65 L1358.49,1637.65 L1358.49,1637.32 L1381.63,1637.32 L1381.63,1636.98 L1404.78,1636.98 L1404.78,1636.64 L1427.92,1636.64 L1427.92,1635.97 L1451.06,1635.97 L1451.06,1635.3 L1474.2,1635.3 L1474.2,1634.63 L1497.35,1634.63 L1497.35,1633.62 L1520.49,1633.62 L1520.49,1632.62 L1543.63,1632.62 L1543.63,1631.27 L1566.78,1631.27 L1566.78,1630.6 L1589.92,1630.6 L1589.92,1628.59 L1613.06,1628.59 L1613.06,1627.58 L1636.2,1627.58 L1636.2,1621.54 L1659.35,1621.54 L1659.35,1615.5 L1682.49,1615.5 L1682.49,1609.79 L1705.63,1609.79 L1705.63,1596.36 L1728.77,1596.36 L1728.77,1574.54 L1751.91,1574.54 L1751.91,1536.28 L1775.06,1536.28 L1775.06,1578.91 L1798.2,1578.91 L1798.2,1644.7" fill="none" stroke="#003300" stroke-width="3.4" stroke-dasharray="6.6 6.4"/>
</g>
<rect x="872.5" y="979.5" width="925.7" height="665.2" fill="none" stroke="#000" stroke-width="2.5"/>
<path d="M872.5,1644.7 v-19.8 M872.5,979.5 v19.8 M988.21,1644.7 v-9.8 M988.21,979.5 v9.8 M1103.92,1644.7 v-19.8 M1103.92,979.5 v19.8 M1219.64,1644.7 v-9.8 M1219.64,979.5 v9.8 M1335.35,1644.7 v-19.8 M1335.35,979.5 v19.8 M1451.06,1644.7 v-9.8 M1451.06,979.5 v9.8 M1566.78,1644.7 v-19.8 M1566.78,979.5 v19.8 M1682.49,1644.7 v-9.8 M1682.49,979.5 v9.8 M1798.2,1644.7 v-19.8 M1798.2,979.5 v19.8 M872.5,1644.7 h28.5 M1798.2,1644.7 h-28.5 M872.5,1627.92 h14.5 M1798.2,1627.92 h-14.5 M872.5,1611.13 h14.5 M1798.2,1611.13 h-14.5 M872.5,1594.35 h14.5 M1798.2,1594.35 h-14.5 M872.5,1577.57 h28.5 M1798.2,1577.57 h-28.5 M872.5,1560.78 h14.5 M1798.2,1560.78 h-14.5 M872.5,1544 h14.5 M1798.2,1544 h-14.5 M872.5,1527.22 h14.5 M1798.2,1527.22 h-14.5 M872.5,1510.43 h28.5 M1798.2,1510.43 h-28.5 M872.5,1493.65 h14.5 M1798.2,1493.65 h-14.5 M872.5,1476.87 h14.5 M1798.2,1476.87 h-14.5 M872.5,1460.08 h14.5 M1798.2,1460.08 h-14.5 M872.5,1443.3 h28.5 M1798.2,1443.3 h-28.5 M872.5,1426.51 h14.5 M1798.2,1426.51 h-14.5 M872.5,1409.73 h14.5 M1798.2,1409.73 h-14.5 M872.5,1392.95 h14.5 M1798.2,1392.95 h-14.5 M872.5,1376.16 h28.5 M1798.2,1376.16 h-28.5 M872.5,1359.38 h14.5 M1798.2,1359.38 h-14.5 M872.5,1342.6 h14.5 M1798.2,1342.6 h-14.5 M872.5,1325.81 h14.5 M1798.2,1325.81 h-14.5 M872.5,1309.03 h28.5 M1798.2,1309.03 h-28.5 M872.5,1292.25 h14.5 M1798.2,1292.25 h-14.5 M872.5,1275.46 h14.5 M1798.2,1275.46 h-14.5 M872.5,1258.68 h14.5 M1798.2,1258.68 h-14.5 M872.5,1241.9 h28.5 M1798.2,1241.9 h-28.5 M872.5,1225.11 h14.5 M1798.2,1225.11 h-14.5 M872.5,1208.33 h14.5 M1798.2,1208.33 h-14.5 M872.5,1191.55 h14.5 M1798.2,1191.55 h-14.5 M872.5,1174.76 h28.5 M1798.2,1174.76 h-28.5 M872.5,1157.98 h14.5 M1798.2,1157.98 h-14.5 M872.5,1141.2 h14.5 M1798.2,1141.2 h-14.5 M872.5,1124.41 h14.5 M1798.2,1124.41 h-14.5 M872.5,1107.63 h28.5 M1798.2,1107.63 h-28.5 M872.5,1090.84 h14.5 M1798.2,1090.84 h-14.5 M872.5,1074.06 h14.5 M1798.2,1074.06 h-14.5 M872.5,1057.28 h14.5 M1798.2,1057.28 h-14.5 M872.5,1040.49 h28.5 M1798.2,1040.49 h-28.5 M872.5,1023.71 h14.5 M1798.2,1023.71 h-14.5 M872.5,1006.93 h14.5 M1798.2,1006.93 h-14.5 M872.5,990.14 h14.5 M1798.2,990.14 h-14.5" stroke="#000" stroke-width="2.2" fill="none"/>
<text class="r" transform="translate(872.5,1684.2) scale(1,1.05)" font-size="41.5" text-anchor="middle">−1</text>
<text class="r" transform="translate(1103.92,1684.2) scale(1,1.05)" font-size="41.5" text-anchor="middle">−0.5</text>
<text class="r" transform="translate(1335.35,1684.2) scale(1,1.05)" font-size="41.5" text-anchor="middle">0</text>
<text class="r" transform="translate(1566.78,1684.2) scale(1,1.05)" font-size="41.5" text-anchor="middle">0.5</text>
<text class="r" transform="translate(1798.2,1684.2) scale(1,1.05)" font-size="41.5" text-anchor="middle">1</text>
<text class="r" transform="translate(867.1,1660.1) scale(1,1.05)" font-size="41.5" text-anchor="end">0</text>
<text class="r" transform="translate(867.1,1592.97) scale(1,1.05)" font-size="41.5" text-anchor="end">20</text>
<text class="r" transform="translate(867.1,1525.83) scale(1,1.05)" font-size="41.5" text-anchor="end">40</text>
<text class="r" transform="translate(867.1,1458.7) scale(1,1.05)" font-size="41.5" text-anchor="end">60</text>
<text class="r" transform="translate(867.1,1391.56) scale(1,1.05)" font-size="41.5" text-anchor="end">80</text>
<text class="r" transform="translate(867.1,1324.43) scale(1,1.05)" font-size="41.5" text-anchor="end">100</text>
<text class="r" transform="translate(867.1,1257.3) scale(1,1.05)" font-size="41.5" text-anchor="end">120</text>
<text class="r" transform="translate(867.1,1190.16) scale(1,1.05)" font-size="41.5" text-anchor="end">140</text>
<text class="r" transform="translate(867.1,1123.03) scale(1,1.05)" font-size="41.5" text-anchor="end">160</text>
<text class="r" transform="translate(867.1,1055.89) scale(1,1.05)" font-size="41.5" text-anchor="end">180</text>
<text class="r" transform="translate(1360.49,1732.5) scale(1,1.04)" font-size="41.8">AK8 jet double b tagger</text>
<text class="r" font-size="41.8" transform="translate(734.3,1237.99) rotate(-90) scale(1,1.04)" x="0" y="0">AK8 jets/ 0.05</text>
<text class="r" transform="translate(869.86,979) scale(1,1.05)" font-size="46.7">×</text>
<text class="r" transform="translate(895.86,975.1) scale(1,1.05)" font-size="41.5">10</text>
<text class="r" transform="translate(940.1,954.5) scale(1,1.03)" font-size="29">3</text>
<text class="r" transform="translate(1637.4,961.7) scale(1,1.03)" font-size="42" textLength="161.91" lengthAdjust="spacing">(13 TeV)</text>
<text class="r" transform="translate(1605.78,943.7) scale(1,1.03)" font-size="27.5">-1</text>
<text class="r" transform="translate(1478.2,961.7) scale(1,1.03)" font-size="42">35.9 fb</text>
<text class="b" transform="translate(909.12,1042.8) scale(1,1.03)" font-size="53.2">CMS</text>
<text class="i" x="910.76" y="1102.5" font-size="40.3">Simulation Preliminary</text>
<rect x="1334.6" y="1008.4" width="28.6" height="50" fill="#d46060" stroke="#000" stroke-width="1.3"/>
<text class="r" transform="translate(1366.56,1042.8) scale(1,1.02)" font-size="28.5">Multijets: bb</text>
<rect x="1543.2" y="1008.4" width="28.6" height="50" fill="#6a8298" stroke="#000" stroke-width="1.3"/>
<text class="r" transform="translate(1575.16,1042.8) scale(1,1.02)" font-size="28.5">Multijets: b</text>
<rect x="1334.6" y="1079.2" width="28.6" height="50" fill="#ae9b8b" stroke="#000" stroke-width="1.3"/>
<text class="r" transform="translate(1366.56,1113.6) scale(1,1.02)" font-size="28.5">Multijets: c</text>
<rect x="1543.2" y="1079.2" width="28.6" height="50" fill="#b3b3b3" stroke="#000" stroke-width="1.3"/>
<text class="r" transform="translate(1575.16,1113.6) scale(1,1.02)" font-size="28.5">Multijets: light</text>
<text class="r" transform="translate(904.83,1186.4) scale(1,1.02)" font-size="28">Signal cross sections = 20 pb</text>
<path d="M909.2,1219.5 h57.4" stroke="#660066" stroke-width="3.4"/>
<text class="r" transform="translate(977.3,1226.4) scale(1,1.02)" font-size="28">Bulk graviton: 1400 GeV</text>
<path d="M909.2,1261 h57.4" stroke="#003300" stroke-width="3.4"/>
<text class="r" transform="translate(977.3,1267.9) scale(1,1.02)" font-size="28">Radion: 1400 GeV</text>
<path d="M1357.5,1219.5 h57.4" stroke="#660066" stroke-width="3.4" stroke-dasharray="6.6 6.4"/>
<text class="r" transform="translate(1424.9,1226.4) scale(1,1.02)" font-size="28">Bulk graviton: 2500 GeV</text>
<path d="M1357.5,1261 h57.4" stroke="#003300" stroke-width="3.4" stroke-dasharray="6.6 6.4"/>
<text class="r" transform="translate(1424.9,1267.9) scale(1,1.02)" font-size="28">Radion: 2500 GeV</text>
</svg>
</body></html>
